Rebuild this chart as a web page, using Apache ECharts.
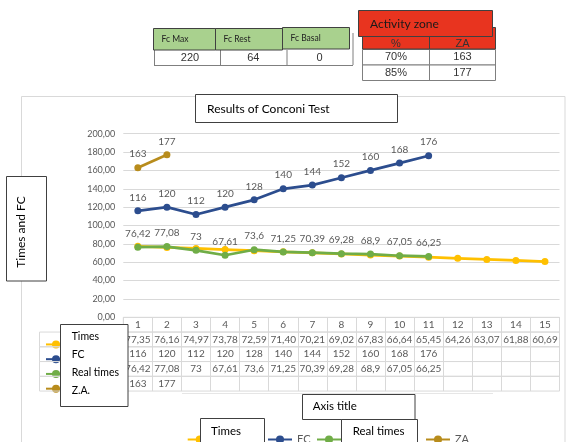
<!DOCTYPE html>
<html>
<head>
<meta charset="utf-8">
<script src="https://cdn.jsdelivr.net/npm/echarts@6/dist/echarts.min.js"></script>
<style>
  html, body { margin: 0; padding: 0; background: #fff; }
  #chart { width: 576px; height: 442px; }
</style>
</head>
<body>
<div id="chart"></div>
<script>
// Conconi test: stage numbers and measured values
const categories = ['1', '2', '3', '4', '5', '6', '7', '8', '9', '10', '11', '12', '13', '14', '15'];
const times = [77.35, 76.16, 74.97, 73.78, 72.59, 71.40, 70.21, 69.02, 67.83, 66.64, 65.45, 64.26, 63.07, 61.88, 60.69];
const fc = [116, 120, 112, 120, 128, 140, 144, 152, 160, 168, 176];
const realTimes = [76.42, 77.08, 73, 67.61, 73.6, 71.25, 70.39, 69.28, 68.9, 67.05, 66.25];
const za = [163, 177];

// Heart-rate reference table
const fcHeaders = ['Fc Max', 'Fc Rest', 'Fc Basal'];
const fcValues = [220, 64, 0];
// Activity zone table (percent -> ZA value)
const zonePct = ['70%', '85%'];
const zoneHeaders = ['%', 'ZA'];

// Value axis range
const yMin = 0, yMax = 200, yStep = 20;

const FONT = 'Lato, "Open Sans", sans-serif';
const GRAY = '#595959';
const LINE = '#D9D9D9';
const BOX = '#404040';

const COLORS = { times: '#FFC000', fc: '#2C4D8E', real: '#70AD47', za: '#B88C1C' };

const comma = v => String(v).replace('.', ',');

// plot area and data-table geometry
const PL = 123.3, PR = 576 - 559.5;
const PT = 133.7, PB = 317.3;
const ROW_H = 14.75;

// rows of the data table below the plot (header + one per series)
const tableRows = [
  i => categories[i],
  i => times[i] != null ? times[i].toFixed(2).replace('.', ',') : '',
  i => fc[i] != null ? String(fc[i]) : '',
  i => realTimes[i] != null ? comma(realTimes[i]) : '',
  i => za[i] != null ? String(za[i]) : ''
];

const grids = [{ left: PL, right: PR, top: PT, bottom: 442 - PB }];
const xAxes = [{
  gridIndex: 0, type: 'category', data: categories, boundaryGap: true,
  axisLine: { show: false, onZero: false }, axisTick: { show: false }, axisLabel: { show: false }
}];
const yAxes = [{
  gridIndex: 0, type: 'value', min: yMin, max: yMax, interval: yStep,
  axisLine: { show: false }, axisTick: { show: false },
  axisLabel: { formatter: v => v.toFixed(2).replace('.', ','), color: GRAY, fontSize: 9, fontFamily: FONT, margin: 8 },
  splitLine: { lineStyle: { color: LINE, width: 1 } }
}];

tableRows.forEach((fmt, r) => {
  const g = r + 1;
  grids.push({
    left: PL, right: PR, top: PB + r * ROW_H, height: ROW_H,
    show: true, borderColor: LINE, borderWidth: 1, backgroundColor: 'transparent'
  });
  xAxes.push({
    gridIndex: g, type: 'category', data: categories, position: 'top', boundaryGap: true,
    axisLine: { show: false, onZero: false }, axisTick: { show: false },
    splitLine: { show: true, interval: 0, lineStyle: { color: LINE, width: 1 } },
    axisLabel: {
      inside: true, interval: 0, margin: ROW_H / 2, verticalAlign: 'middle',
      color: GRAY, fontSize: 10, fontFamily: FONT,
      formatter: (v, idx) => fmt(idx)
    }
  });
  yAxes.push({ gridIndex: g, type: 'value', min: 0, max: 1, show: false });
});

const labelCfg = {
  show: true, position: 'top', distance: 5, color: GRAY, fontSize: 10, fontFamily: FONT,
  formatter: p => comma(p.value)
};

const lineSeries = (name, data, color, z, label) => ({
  name: name, type: 'line', data: data, color: color, symbol: 'circle', symbolSize: 7,
  lineStyle: { width: 2.75 }, label: label, z: z
});

const series = [
  lineSeries('Times', times, COLORS.times, 2, { show: false }),
  lineSeries('FC', fc, COLORS.fc, 3, labelCfg),
  lineSeries('Real times', realTimes, COLORS.real, 4, labelCfg),
  lineSeries('ZA', za, COLORS.za, 5, labelCfg)
];

// legend keys inside the data table (one per series row)
const keyLegends = ['Times', 'FC', 'Real times', 'ZA'].map((name, r) => ({
  data: [name], left: 40, top: PB + (r + 1.5) * ROW_H - 5, itemWidth: 20, itemHeight: 10,
  selectedMode: false, formatter: () => '', textStyle: { fontSize: 10 }
}));
// legend under the chart
const bottomLegendX = [181.7, 262, 311, 420];
const bottomLegends = ['Times', 'FC', 'Real times', 'ZA'].map((name, i) => ({
  data: [name], left: bottomLegendX[i], top: 429, itemWidth: 24, itemHeight: 10,
  selectedMode: false, textStyle: { color: GRAY, fontSize: 11, fontFamily: FONT }
}));

// helpers for decorative boxes and table cells
const rect = (x, y, w, h, fill, stroke, z) => ({
  type: 'rect', z: z || 50, silent: true,
  shape: { x: x, y: y, width: w, height: h },
  style: { fill: fill || 'none', stroke: stroke || 'none', lineWidth: 1 }
});
const text = (str, x, y, size, opts) => ({
  type: 'text', z: (opts && opts.z) || 60, silent: true, x: x, y: y,
  rotation: (opts && opts.rotation) || 0,
  style: {
    text: str, fill: (opts && opts.color) || '#1a1a1a',
    font: size + 'px ' + ((opts && opts.family) || FONT),
    align: (opts && opts.align) || 'left', verticalAlign: 'middle'
  }
});
const line = (x1, y1, x2, y2, color, z) => ({
  type: 'line', z: z || 50, silent: true,
  shape: { x1: x1, y1: y1, x2: x2, y2: y2 },
  style: { stroke: color, lineWidth: 1 }
});

const graphics = [];

// outer chart frame
graphics.push(rect(21.5, 96.5, 543.5, 360, 'none', LINE, 1));

// heart-rate table
const fcCellX = [153.5, 215.5, 282.5];
const fcCellW = [62, 67, 67];
fcHeaders.forEach((h, i) => {
  const y = i === 2 ? 27.5 : 28.5;
  graphics.push(rect(fcCellX[i], y, fcCellW[i], 21.5, '#A9D18E', BOX, 20 + i));
  graphics.push(text(h, fcCellX[i] + 8, y + 10.5, 8.5, { z: 30 + i, color: '#222' }));
});
const fcValX = [154, 220, 286.5, 352.5];
for (let i = 0; i < 4; i++) graphics.push(line(fcValX[i] + 0.5, i === 3 ? 33 : 50, fcValX[i] + 0.5, 65, '#7F7F7F', 15));
graphics.push(line(154, 65.5, 353, 65.5, '#7F7F7F', 15));
fcValues.forEach((v, i) => {
  graphics.push(text(String(v), (fcValX[i] + fcValX[i + 1]) / 2 + (i === 0 ? 3 : 0), 57.5, 11,
    { align: 'center', color: '#333', family: '"Liberation Sans", Arial, sans-serif' }));
});

// activity zone table
const zX = [362.5, 429.5, 495.5];
graphics.push(rect(362.5, 27.5, 133, 21.5, '#E8341F', BOX, 20));
graphics.push(line(429.5, 36, 429.5, 49, BOX, 21));
zoneHeaders.forEach((h, i) => {
  graphics.push(text(h, (zX[i] + zX[i + 1]) / 2, 43.5, 11,
    { align: 'center', color: '#333', family: '"Liberation Sans", Arial, sans-serif', z: 22 }));
});
zonePct.forEach((p, r) => {
  const y = 49 + r * 15.5;
  graphics.push(rect(362.5, y + 0.5, 133, 15.5, '#fff', '#7F7F7F', 15));
  graphics.push(line(429.5, y, 429.5, y + 15.5, '#7F7F7F', 16));
  graphics.push(text(p, (zX[0] + zX[1]) / 2, y + 8, 11,
    { align: 'center', color: '#333', family: '"Liberation Sans", Arial, sans-serif' }));
  graphics.push(text(String(za[r]), (zX[1] + zX[2]) / 2, y + 8, 11,
    { align: 'center', color: '#333', family: '"Liberation Sans", Arial, sans-serif' }));
});
graphics.push(rect(358.5, 10.5, 134, 26, '#E8341F', BOX, 40));
graphics.push(text('Activity zone', 370, 24, 12, { z: 41, color: '#1a1a1a' }));

// chart title box
graphics.push(rect(195.5, 94.5, 202, 28, '#fff', BOX, 40));
graphics.push(text('Results of Conconi Test', 207, 109, 12, { z: 41, color: '#000' }));

// value-axis title box
graphics.push(rect(6.5, 176.5, 40, 104.5, '#fff', BOX, 40));
graphics.push(text('Times and FC', 21, 232, 12, { z: 41, color: '#000', align: 'center', rotation: Math.PI / 2 }));

// legend-key column of the data table
for (let r = 1; r <= 4; r++) graphics.push(rect(39.5, PB + r * ROW_H, 84, ROW_H, 'none', LINE, 5));

// series-name box over the key column
graphics.push(rect(60.5, 324.5, 67.5, 82, '#fff', BOX, 40));
['Times', 'FC', 'Real times', 'Z.A.'].forEach((n, i) => {
  graphics.push(text(n, 71.7, 337 + i * 17.8, 10.5, { z: 41, color: '#000' }));
});

// faint guide line below the data table
graphics.push(line(182, 393.5, 493, 393.5, '#E6E6E6', 3));

// category-axis title box
graphics.push(rect(302.5, 394.5, 112.5, 25, '#fff', BOX, 40));
graphics.push(text('Axis title', 312.7, 406.5, 11.5, { z: 41, color: '#000' }));

// boxes over the bottom legend entries
graphics.push(rect(200.5, 418.5, 64, 30, '#fff', BOX, 40));
graphics.push(text('Times', 211, 431, 11.5, { z: 41, color: '#000' }));
graphics.push(rect(341.5, 419.5, 76, 30, '#fff', BOX, 42));
graphics.push(text('Real times', 352.7, 431, 11.5, { z: 43, color: '#000' }));

const chart = echarts.init(document.getElementById('chart'), null, { renderer: 'canvas' });
chart.setOption({
  animation: false,
  backgroundColor: '#fff',
  grid: grids,
  xAxis: xAxes,
  yAxis: yAxes,
  legend: keyLegends.concat(bottomLegends),
  series: series,
  graphic: { elements: graphics }
});
</script>
</body>
</html>
